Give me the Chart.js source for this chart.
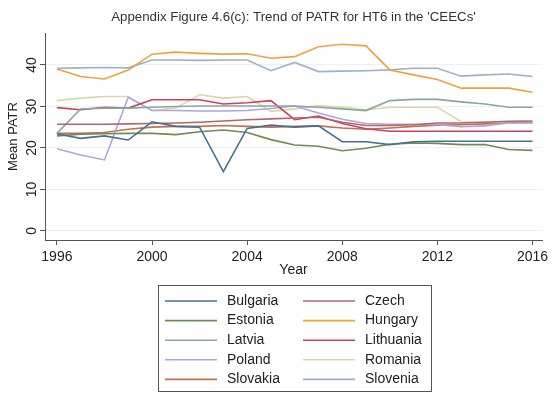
<!DOCTYPE html>
<html>
<head>
    <title>Trend of PATR for HT6 in the CEECs</title>
    <script src="https://cdn.jsdelivr.net/npm/chart.js"></script>
    <style>
        body { margin: 0; background: #fff; }
    </style>
</head>
<body>

<canvas id="patrChart" width="558" height="398"></canvas>

<script>
const years = [1996, 1997, 1998, 1999, 2000, 2001, 2002, 2003, 2004, 2005, 2006,
               2007, 2008, 2009, 2010, 2011, 2012, 2013, 2014, 2015, 2016];
const xTicks = [1996, 2000, 2004, 2008, 2012, 2016];
const yTicks = [0, 10, 20, 30, 40];

const countries = ['Bulgaria', 'Czech', 'Estonia', 'Hungary', 'Latvia',
                   'Lithuania', 'Poland', 'Romania', 'Slovakia', 'Slovenia'];

const bulgaria  = [23.4, 22.3, 22.9, 21.9, 26.3, 25.2, 25.0, 14.3, 24.7, 25.5, 25.0, 25.3, 21.5, 21.5, 20.8, 21.5, 21.6, 21.6, 21.6, 21.6, 21.6];
const czech     = [25.7, 25.7, 25.7, 25.8, 25.9, 26.0, 26.2, 26.5, 26.8, 27.0, 27.2, 27.4, 26.2, 25.4, 25.4, 25.6, 26.0, 26.0, 26.2, 26.4, 26.5];
const estonia   = [22.9, 23.3, 23.4, 23.5, 23.5, 23.2, 23.9, 24.3, 23.7, 22.0, 20.7, 20.4, 19.3, 19.9, 20.9, 21.2, 21.1, 20.8, 20.8, 19.6, 19.4];
const hungary   = [39.0, 37.2, 36.6, 38.8, 42.6, 43.1, 42.8, 42.6, 42.7, 41.6, 42.0, 44.4, 45.0, 44.6, 38.8, 37.6, 36.5, 34.4, 34.4, 34.4, 33.4];
const latvia    = [23.5, 29.4, 29.6, 29.6, 29.8, 30.0, 30.1, 30.1, 30.1, 30.1, 30.1, 29.8, 29.4, 29.0, 31.4, 31.7, 31.7, 31.1, 30.6, 29.8, 29.8];
const lithuania = [29.7, 29.2, 29.8, 29.6, 31.6, 31.6, 31.6, 30.6, 30.9, 31.4, 26.8, 27.7, 25.9, 24.6, 24.0, 24.0, 24.0, 24.0, 24.0, 24.0, 24.0];
const poland    = [19.8, 18.3, 17.1, 32.2, 29.0, 29.0, 28.9, 28.9, 29.0, 29.5, 30.1, 28.4, 26.9, 25.9, 25.7, 25.7, 25.6, 25.1, 25.3, 26.0, 26.1];
const romania   = [31.4, 32.0, 32.4, 32.4, 29.0, 29.6, 32.8, 32.0, 32.4, 28.8, 29.4, 30.2, 29.8, 29.2, 29.8, 29.8, 29.8, 26.3, 26.2, 26.1, 26.2];
const slovakia  = [23.5, 23.5, 23.7, 24.5, 25.0, 25.2, 25.2, 25.4, 25.2, 25.0, 25.2, 25.3, 24.8, 24.5, 24.8, 25.2, 25.5, 25.6, 25.8, 26.0, 26.1];
const slovenia  = [39.2, 39.3, 39.4, 39.3, 41.2, 41.2, 41.1, 41.2, 41.2, 38.6, 40.6, 38.4, 38.5, 38.6, 38.8, 39.2, 39.2, 37.3, 37.6, 37.8, 37.2];

const series = [bulgaria, czech, estonia, hungary, latvia, lithuania, poland, romania, slovakia, slovenia];
const colors = ['#45708f', '#b2666c', '#6f8c4f', '#f0a23a', '#8aa6a0',
                '#d23c5e', '#aba5e0', '#ddd6a6', '#c26f50', '#9db1c7'];

const chartTitle = "Appendix Figure 4.6(c): Trend of PATR for HT6 in the 'CEECs'";
const FONT = "'Liberation Sans', Arial, Helvetica, sans-serif";

// title centred over the plot area (Stata style), not over the whole canvas
const plotTitle = {
    id: 'plotTitle',
    afterDraw(chart) {
        const ctx = chart.ctx, area = chart.chartArea;
        ctx.save();
        ctx.font = '13.3px ' + FONT;
        ctx.fillStyle = '#333';
        ctx.textAlign = 'center';
        ctx.textBaseline = 'middle';
        ctx.fillText(chartTitle, (area.left + area.right) / 2, 17);
        ctx.restore();
    }
};

// two-column boxed legend below the plot
const boxLegend = {
    id: 'boxLegend',
    afterDraw(chart) {
        const ctx = chart.ctx;
        const left = 158, top = 285, width = 273, height = 106;
        ctx.save();
        ctx.strokeStyle = '#555';
        ctx.lineWidth = 1;
        ctx.strokeRect(left + 0.5, top + 0.5, width, height);
        ctx.font = '14px ' + FONT;
        ctx.textBaseline = 'middle';
        ctx.fillStyle = '#222';
        chart.data.datasets.forEach(function(ds, i) {
            const col = i % 2, row = Math.floor(i / 2);
            const x = left + 7 + col * 138;
            const y = top + 16 + row * 19.6;
            ctx.strokeStyle = ds.borderColor;
            ctx.lineWidth = 1.6;
            ctx.beginPath();
            ctx.moveTo(x, y);
            ctx.lineTo(x + 52, y);
            ctx.stroke();
            ctx.fillText(ds.label, x + 62, y);
        });
        ctx.restore();
    }
};

const patrChart = new Chart(document.getElementById('patrChart'), {
    type: 'line',
    data: {
        datasets: countries.map(function(name, i) {
            return {
                label: name,
                data: years.map(function(y, j) { return {x: y, y: series[i][j]}; }),
                borderColor: colors[i],
                backgroundColor: colors[i],
                borderWidth: 1.6,
                pointRadius: 0,
                tension: 0,
                fill: false
            };
        })
    },
    options: {
        responsive: false,
        animation: false,
        devicePixelRatio: 1,
        layout: {
            padding: { left: 0, right: 16, top: 33, bottom: 118 }
        },
        scales: {
            x: {
                type: 'linear',
                min: 1995.5,
                max: 2016.4,
                afterBuildTicks: function(scale) {
                    scale.ticks = xTicks.map(function(v) { return {value: v}; });
                },
                afterFit: function(scale) { scale.height = 40; },
                ticks: {
                    color: '#222',
                    font: { family: FONT, size: 14 },
                    padding: 4,
                    maxRotation: 0,
                    callback: function(v) { return String(v); }
                },
                grid: {
                    drawOnChartArea: false,
                    drawTicks: true,
                    tickLength: 5,
                    tickColor: '#555'
                },
                border: { color: '#555', width: 1 },
                title: {
                    display: true,
                    text: 'Year',
                    color: '#222',
                    font: { family: FONT, size: 14 },
                    padding: { top: 0, bottom: 1 }
                }
            },
            y: {
                min: -2.2,
                max: 47.7,
                afterBuildTicks: function(scale) {
                    scale.ticks = yTicks.map(function(v) { return {value: v}; });
                },
                afterFit: function(scale) { scale.width = 45; },
                ticks: {
                    color: '#222',
                    font: { family: FONT, size: 14 },
                    padding: 0,
                    minRotation: 90,
                    maxRotation: 90,
                    crossAlign: 'center'
                },
                grid: {
                    color: '#eef1f1',
                    tickColor: '#555',
                    tickLength: 5
                },
                border: { color: '#555', width: 1 },
                title: {
                    display: true,
                    text: 'Mean PATR',
                    color: '#222',
                    font: { family: FONT, size: 13 },
                    padding: { top: 6, bottom: 0 }
                }
            }
        },
        plugins: {
            legend: { display: false },
            tooltip: { enabled: false },
            title: { display: false }
        }
    },
    plugins: [plotTitle, boxLegend]
});
</script>

</body>
</html>
